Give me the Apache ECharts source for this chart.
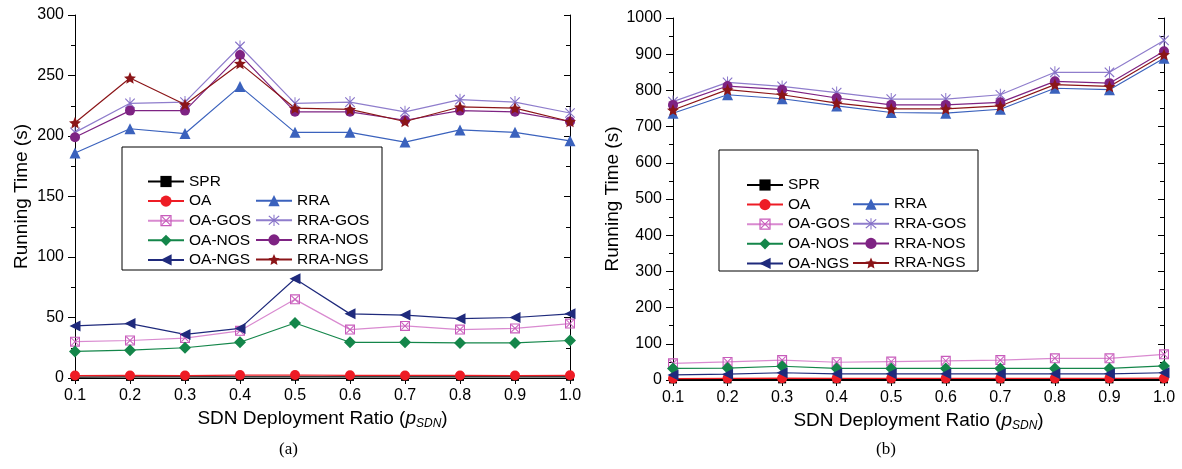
<!DOCTYPE html>
<html>
<head>
<meta charset="utf-8">
<script src="https://cdn.jsdelivr.net/npm/echarts@6/dist/echarts.min.js"></script>
<style>
html,body{margin:0;padding:0;background:#fff;}
#main{width:1182px;height:469px;}
</style>
</head>
<body>
<div id="main"></div>
<script>
// ---------- data ----------
const categories = ['0.1','0.2','0.3','0.4','0.5','0.6','0.7','0.8','0.9','1.0'];
const seriesNames = ['SPR','OA','OA-GOS','OA-NOS','OA-NGS','RRA','RRA-GOS','RRA-NOS','RRA-NGS'];

// chart (a)
const SPR_a     = [0.8,0.9,0.9,1.0,1.0,0.9,0.9,0.9,0.9,1.0];
const OA_a      = [2.0,2.1,2.0,2.4,2.5,2.2,2.1,2.1,2.0,2.2];
const OA_GOS_a  = [30,31,33,39,65,40,43,40,41,45];
const OA_NOS_a  = [22,23,25,29.5,45.5,29.5,29.5,29,29,31];
const OA_NGS_a  = [43,45,36,41,82,53,52,49,50,53];
const RRA_a     = [186,206,202,241,203,203,195,205,203,196];
const RRA_GOS_a = [203,227,228,274,227,228,220,230,228,219];
const RRA_NOS_a = [199,221,221,267,220,220,213,221,220,212];
const RRA_NGS_a = [211,248,226,260,223,222,212,224,223,212];

// chart (b)
const SPR_b     = [1.5,1.6,1.7,1.6,1.6,1.6,1.6,1.7,1.7,1.8];
const OA_b      = [4,4.5,5,4.5,4.5,4.5,4.5,4.5,4.5,5];
const OA_GOS_b  = [46,50,55,49,51,53,55,60,60,71];
const OA_NOS_b  = [32,33,38,32,32,32,32,32,32,39];
const OA_NGS_b  = [14,16,20,17,17,17,17,17,17,20];
const RRA_b     = [737,788,777,757,739,737,748,806,802,889];
const RRA_GOS_b = [769,822,811,794,776,776,788,850,850,938];
const RRA_NOS_b = [760,812,802,779,760,760,767,825,820,908];
const RRA_NGS_b = [746,802,788,765,749,749,757,816,811,899];

const yTicksA = {min:0, max:300, interval:50};
const yTicksB = {min:0, max:1000, interval:100};

// ---------- styles ----------
const STAR = 'path://M10,0 L12.9,6.9 L20,7.6 L14.6,12.3 L16.2,19.5 L10,15.7 L3.8,19.5 L5.4,12.3 L0,7.6 L7.1,6.9 Z';
const ASTER = 'path://M9.2,0 L10.8,0 L10.8,20 L9.2,20 Z M1.5,2.8 L2.8,1.5 L18.5,17.2 L17.2,18.5 Z M17.2,1.5 L18.5,2.8 L2.8,18.5 L1.5,17.2 Z';
const BOXX = 'path://M0,0 L20,0 L20,20 L0,20 Z M2.2,2.2 L2.2,17.8 L17.8,17.8 L17.8,2.2 Z M2.2,3.6 L3.6,2.2 L17.8,16.4 L16.4,17.8 Z M16.4,2.2 L17.8,3.6 L3.6,17.8 L2.2,16.4 Z';
const styleMap = {
  'SPR':     {color:'#000000', symbol:'rect', size:8},
  'OA':      {color:'#ee1c25', symbol:'circle', size:10},
  'OA-GOS':  {color:'#c85cbc', line:'#d98ad0', symbol:BOXX, size:10},
  'OA-NOS':  {color:'#14864a', symbol:'diamond', size:12},
  'OA-NGS':  {color:'#1f2a7c', symbol:'triangle', size:11, rotate:90},
  'RRA':     {color:'#3b62bd', symbol:'triangle', size:11},
  'RRA-GOS': {color:'#8672c8', line:'#8f7dcc', symbol:ASTER, size:12},
  'RRA-NOS': {color:'#7e2383', symbol:'circle', size:10},
  'RRA-NGS': {color:'#8b1518', symbol:STAR, size:12}
};

const dataA = {'SPR':SPR_a,'OA':OA_a,'OA-GOS':OA_GOS_a,'OA-NOS':OA_NOS_a,'OA-NGS':OA_NGS_a,
  'RRA':RRA_a,'RRA-GOS':RRA_GOS_a,'RRA-NOS':RRA_NOS_a,'RRA-NGS':RRA_NGS_a};
const dataB = {'SPR':SPR_b,'OA':OA_b,'OA-GOS':OA_GOS_b,'OA-NOS':OA_NOS_b,'OA-NGS':OA_NGS_b,
  'RRA':RRA_b,'RRA-GOS':RRA_GOS_b,'RRA-NOS':RRA_NOS_b,'RRA-NGS':RRA_NGS_b};

function mkSeries(name, data, gi){
  const s = styleMap[name];
  return {
    type:'line', name:name, data:data,
    xAxisIndex: gi*2, yAxisIndex: gi*2,
    symbol: s.symbol, symbolSize: s.size, symbolRotate: s.rotate || 0,
    symbolKeepAspect: true,
    showAllSymbol: true,
    lineStyle:{width:1.2, color: s.line || s.color},
    itemStyle:{color: s.color},
    emphasis:{disabled:true},
    animation:false
  };
}

const FONT = 'Liberation Sans';
const series = [];
seriesNames.forEach(n => series.push(mkSeries(n, dataA[n], 0)));
seriesNames.forEach(n => series.push(mkSeries(n, dataB[n], 1)));

function xAxes(gi){
  return [
    {type:'category', gridIndex:gi, data:categories, boundaryGap:false, position:'bottom',
     axisLine:{lineStyle:{color:'#000', width:1}},
     axisTick:{inside:false, length:6, lineStyle:{color:'#000'}},
     axisLabel:{color:'#000', fontSize:16, fontFamily:FONT, margin:10},
     splitLine:{show:false},
     name:'SDN Deployment Ratio ({i|p}{sub|SDN})', nameLocation:'middle', nameGap:28,
     nameTextStyle:{color:'#000', fontSize:19, fontFamily:FONT,
       rich:{i:{fontStyle:'italic', fontSize:19, fontFamily:FONT, color:'#000'},
             sub:{fontStyle:'italic', fontSize:12, fontFamily:FONT, color:'#000', padding:[10,0,0,0]}}}},
    {type:'category', gridIndex:gi, data:categories, boundaryGap:false, position:'top',
     axisLine:{lineStyle:{color:'#000', width:1}},
     axisTick:{inside:true, length:6, lineStyle:{color:'#000'}},
     axisLabel:{show:false}, splitLine:{show:false}}
  ];
}
function yAxes(gi, t){
  return [
    {type:'value', gridIndex:gi, position:'left', min:t.min, max:t.max, interval:t.interval,
     axisLine:{show:true, lineStyle:{color:'#000', width:1}},
     axisTick:{show:true, inside:false, length:7, lineStyle:{color:'#000'}},
     minorTick:{show:true, splitNumber:2, length:4, lineStyle:{color:'#000'}},
     axisLabel:{color:'#000', fontSize:16, fontFamily:FONT, margin:11, formatter: v => String(v)},
     splitLine:{show:false},
     name:'Running Time (s)', nameLocation:'middle', nameGap:gi===0?44:50,
     nameTextStyle:{color:'#000', fontSize:19, fontFamily:FONT}},
    {type:'value', gridIndex:gi, position:'right', min:t.min, max:t.max, interval:t.interval,
     axisLine:{show:true, lineStyle:{color:'#000', width:1}},
     axisTick:{show:true, inside:true, length:6, lineStyle:{color:'#000'}},
     minorTick:{show:true, splitNumber:2, length:4, lineStyle:{color:'#000'}},
     axisLabel:{show:false}, splitLine:{show:false}}
  ];
}

function legend(names, left, top){
  return {data:names, orient:'vertical', left:left, top:top, padding:0,
    itemWidth:36, itemHeight:14, itemGap:3.6, selectedMode:false,
    textStyle:{color:'#000', fontSize:15.5, fontFamily:FONT}};
}
const col1 = ['SPR','OA','OA-GOS','OA-NOS','OA-NGS'];
const col2 = ['RRA','RRA-GOS','RRA-NOS','RRA-NGS'];

const option = {
  backgroundColor:'#fff',
  animation:false,
  textStyle:{fontFamily:FONT},
  grid:[
    {left:75, right:612, top:15, bottom:91},
    {left:673, right:18, top:18, bottom:89}
  ],
  xAxis:[...xAxes(0), ...xAxes(1)],
  yAxis:[...yAxes(0, yTicksA), ...yAxes(1, yTicksB)],
  legend:[
    legend(col1, 147, 173.5), legend(col2, 255, 192.7),
    legend(col1, 746, 177), legend(col2, 852, 196.2)
  ],
  graphic:[
    {type:'rect', shape:{x:122, y:147, width:260, height:123}, style:{fill:'#fff', stroke:'#000', lineWidth:1}, z:-1, silent:true},
    {type:'rect', shape:{x:719, y:150, width:259, height:121}, style:{fill:'#fff', stroke:'#000', lineWidth:1}, z:-1, silent:true},
    {type:'text', left:279, top:441, style:{text:'(a)', font:'17px "Liberation Serif"', fill:'#000'}},
    {type:'text', left:876, top:441, style:{text:'(b)', font:'17px "Liberation Serif"', fill:'#000'}}
  ],
  series: series
};
const chart = echarts.init(document.getElementById('main'), null, {renderer:'canvas'});
chart.setOption(option);
</script>
</body>
</html>
